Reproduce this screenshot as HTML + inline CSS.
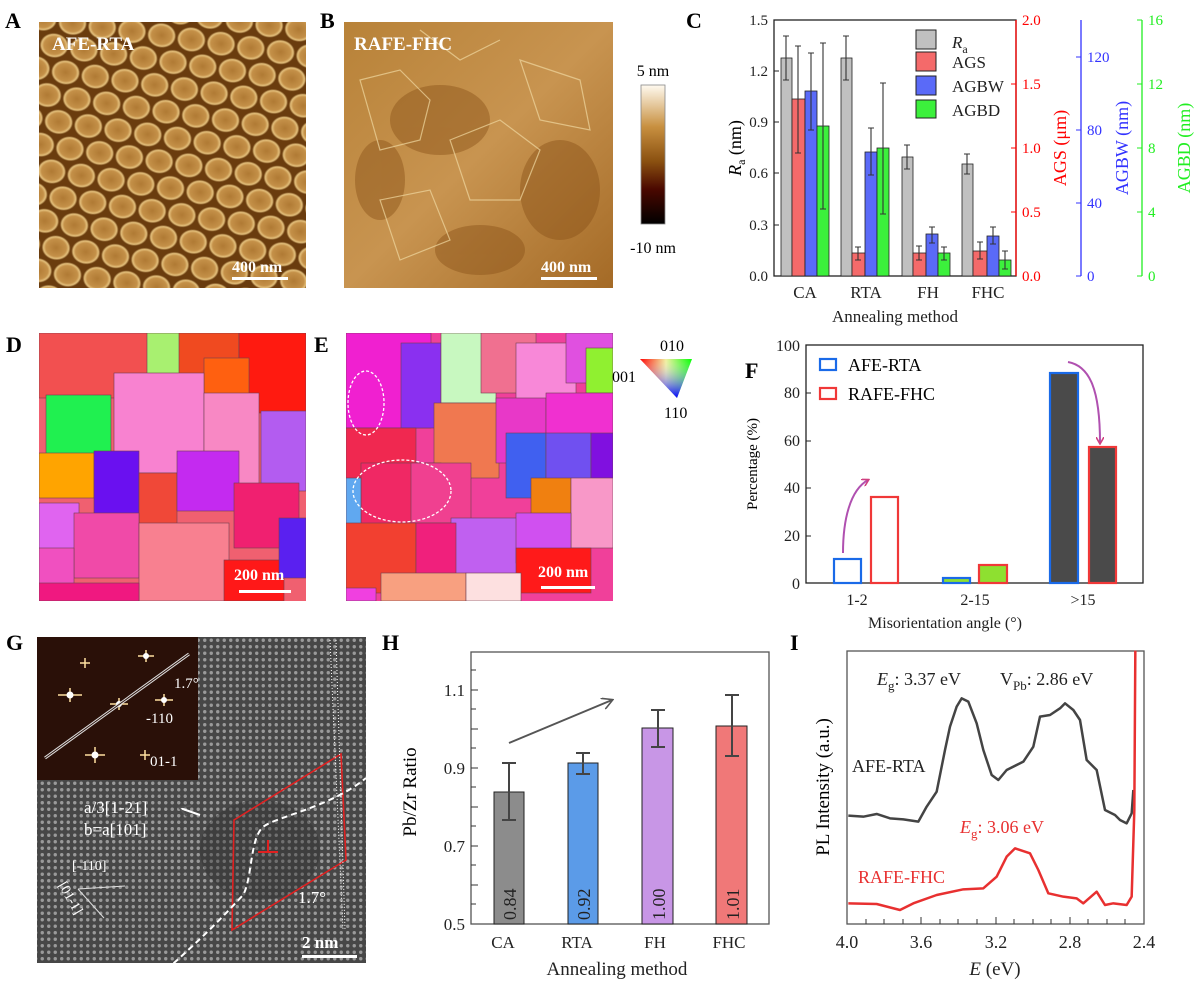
<!DOCTYPE html>
<html><head><meta charset="utf-8"><style>
html,body{margin:0;padding:0;background:#fff;}
svg{display:block;font-family:"Liberation Serif",serif;}
</style></head><body>
<svg width="1196" height="988" viewBox="0 0 1196 988" xmlns="http://www.w3.org/2000/svg">
<defs>
<radialGradient id="grain" cx="50%" cy="50%" r="50%">
<stop offset="0" stop-color="#b07a34"/><stop offset="0.7" stop-color="#c49048"/><stop offset="0.87" stop-color="#e4c07c"/><stop offset="1" stop-color="#6a3c0e"/></radialGradient>
<pattern id="afm" width="30" height="50" patternUnits="userSpaceOnUse" patternTransform="rotate(8)">
<rect width="30" height="50" fill="#6a3c0e"/>
<ellipse cx="15" cy="12.5" rx="14.5" ry="12.5" fill="url(#grain)"/>
<ellipse cx="0" cy="37.5" rx="14.5" ry="12.5" fill="url(#grain)"/>
<ellipse cx="30" cy="37.5" rx="14.5" ry="12.5" fill="url(#grain)"/>
</pattern>
<linearGradient id="cbar" x1="0" y1="0" x2="0" y2="1">
<stop offset="0" stop-color="#fffaf0"/><stop offset="0.3" stop-color="#c89040"/><stop offset="0.55" stop-color="#8a5010"/><stop offset="0.75" stop-color="#4a0800"/><stop offset="1" stop-color="#000"/></linearGradient>
<linearGradient id="bgrad" x1="0" y1="0" x2="1" y2="1">
<stop offset="0" stop-color="#b88238"/><stop offset="0.5" stop-color="#c89450"/><stop offset="1" stop-color="#a46a26"/></linearGradient>
<pattern id="atoms" width="6.5" height="6.5" patternUnits="userSpaceOnUse">
<rect width="6.5" height="6.5" fill="#474747"/><circle cx="3.25" cy="3.25" r="1.7" fill="#9a9a9a"/></pattern>
<linearGradient id="tri" x1="0" y1="0" x2="1" y2="0">
<stop offset="0" stop-color="#f00"/><stop offset="0.5" stop-color="#f0f0a0"/><stop offset="1" stop-color="#0f0"/></linearGradient>
<linearGradient id="tri2" x1="0" y1="0" x2="0" y2="1">
<stop offset="0" stop-color="#fff" stop-opacity="0"/><stop offset="1" stop-color="#00f"/></linearGradient>
<marker id="ah" markerWidth="8" markerHeight="8" refX="6" refY="4" orient="auto" markerUnits="userSpaceOnUse"><path d="M0,0 L7,4 L0,8" fill="none" stroke="#d04080" stroke-width="1.6"/></marker>
<marker id="ah2" markerWidth="12" markerHeight="12" refX="10" refY="6" orient="auto" markerUnits="userSpaceOnUse"><path d="M0,0 L11,6 L0,12" fill="none" stroke="#555" stroke-width="1.6"/></marker>
</defs>

<g font-weight="bold" font-size="22">
<text x="5" y="28">A</text><text x="320" y="28">B</text><text x="686" y="28">C</text>
<text x="6" y="352">D</text><text x="314" y="352">E</text><text x="745" y="378">F</text>
<text x="6" y="650">G</text><text x="382" y="650">H</text><text x="790" y="650">I</text>
</g>

<!-- A -->
<rect x="39" y="22" width="267" height="266" fill="url(#afm)"/>
<text x="52" y="50" font-size="19" font-weight="bold" fill="#fff">AFE-RTA</text>
<text x="232" y="272" font-size="16" font-weight="bold" fill="#fff">400 nm</text>
<rect x="232" y="277" width="56" height="3" fill="#fff"/>

<!-- B -->
<rect x="344" y="22" width="269" height="266" fill="url(#bgrad)"/>
<g fill="#8a5218" opacity="0.45">
<ellipse cx="440" cy="120" rx="50" ry="35"/><ellipse cx="560" cy="190" rx="40" ry="50"/><ellipse cx="480" cy="250" rx="45" ry="25"/><ellipse cx="380" cy="180" rx="25" ry="40"/></g>
<g stroke="#f0d8a0" stroke-width="1.2" fill="none" opacity="0.7">
<path d="M360,80 L400,70 L430,100 L420,140 L380,150 Z"/><path d="M450,140 L500,120 L540,150 L520,200 L470,200 Z"/><path d="M380,200 L430,190 L450,240 L400,260Z"/><path d="M520,60 L580,80 L590,130 L540,120Z"/><path d="M420,30 L460,60 L500,40"/></g>
<text x="354" y="50" font-size="19" font-weight="bold" fill="#fff">RAFE-FHC</text>
<text x="541" y="272" font-size="16" font-weight="bold" fill="#fff">400 nm</text>
<rect x="541" y="277" width="56" height="3" fill="#fff"/>

<rect x="641" y="85" width="24" height="139" fill="url(#cbar)" stroke="#888" stroke-width="0.8"/>
<text x="653" y="76" font-size="16" text-anchor="middle">5 nm</text>
<text x="653" y="253" font-size="16" text-anchor="middle">-10 nm</text>

<!-- C -->
<g font-size="15">
<rect x="774" y="20" width="242" height="256" fill="none" stroke="#222" stroke-width="1.3"/>
<line x1="1016" y1="20" x2="1016" y2="276" stroke="#f00" stroke-width="1.3"/>
<line x1="1081" y1="20" x2="1081" y2="276" stroke="#33f" stroke-width="1.3"/>
<line x1="1142" y1="20" x2="1142" y2="276" stroke="#2e2" stroke-width="1.3"/>
<g fill="#222" text-anchor="end"><text x="768" y="25">1.5</text><text x="768" y="76">1.2</text><text x="768" y="127">0.9</text><text x="768" y="178">0.6</text><text x="768" y="230">0.3</text><text x="768" y="281">0.0</text></g>
<g stroke="#222"><line x1="774" y1="71" x2="779" y2="71"/><line x1="774" y1="122" x2="779" y2="122"/><line x1="774" y1="173" x2="779" y2="173"/><line x1="774" y1="225" x2="779" y2="225"/></g>
<g fill="#f00"><text x="1022" y="25">2.0</text><text x="1022" y="89">1.5</text><text x="1022" y="153">1.0</text><text x="1022" y="217">0.5</text><text x="1022" y="281">0.0</text></g>
<g stroke="#f00"><line x1="1016" y1="84" x2="1011" y2="84"/><line x1="1016" y1="148" x2="1011" y2="148"/><line x1="1016" y1="212" x2="1011" y2="212"/></g>
<g fill="#33f"><text x="1087" y="62">120</text><text x="1087" y="135">80</text><text x="1087" y="208">40</text><text x="1087" y="281">0</text></g>
<g stroke="#33f"><line x1="1081" y1="57" x2="1076" y2="57"/><line x1="1081" y1="130" x2="1076" y2="130"/><line x1="1081" y1="203" x2="1076" y2="203"/><line x1="1081" y1="276" x2="1076" y2="276"/></g>
<g fill="#2e2"><text x="1148" y="25">16</text><text x="1148" y="89">12</text><text x="1148" y="153">8</text><text x="1148" y="217">4</text><text x="1148" y="281">0</text></g>
<g stroke="#2e2"><line x1="1142" y1="20" x2="1137" y2="20"/><line x1="1142" y1="84" x2="1137" y2="84"/><line x1="1142" y1="148" x2="1137" y2="148"/><line x1="1142" y1="212" x2="1137" y2="212"/><line x1="1142" y1="276" x2="1137" y2="276"/></g>
<g stroke="#222" stroke-width="0.8">
<rect x="781" y="58" width="11" height="218" fill="#c0c0c0"/><rect x="792" y="99" width="13" height="177" fill="#f46a6a"/><rect x="805" y="91" width="12" height="185" fill="#5a6af8"/><rect x="817" y="126" width="12" height="150" fill="#3cf03c"/>
<rect x="841" y="58" width="11" height="218" fill="#c0c0c0"/><rect x="852" y="253" width="13" height="23" fill="#f46a6a"/><rect x="865" y="152" width="12" height="124" fill="#5a6af8"/><rect x="877" y="148" width="12" height="128" fill="#3cf03c"/>
<rect x="902" y="157" width="11" height="119" fill="#c0c0c0"/><rect x="913" y="253" width="13" height="23" fill="#f46a6a"/><rect x="926" y="234" width="12" height="42" fill="#5a6af8"/><rect x="938" y="253" width="12" height="23" fill="#3cf03c"/>
<rect x="962" y="164" width="11" height="112" fill="#c0c0c0"/><rect x="973" y="251" width="14" height="25" fill="#f46a6a"/><rect x="987" y="236" width="12" height="40" fill="#5a6af8"/><rect x="999" y="260" width="12" height="16" fill="#3cf03c"/>
</g>
<g stroke="#333" stroke-width="1.1">
<path d="M786,36V80M783,36h6M783,80h6 M798,46V153M795,46h6M795,153h6 M811,53V130M808,53h6M808,130h6 M823,43V209M820,43h6M820,209h6"/>
<path d="M846,36V80M843,36h6M843,80h6 M858,247V260M855,247h6M855,260h6 M871,128V175M868,128h6M868,175h6 M883,83V214M880,83h6M880,214h6"/>
<path d="M907,145V169M904,145h6M904,169h6 M919,246V260M916,246h6M916,260h6 M932,227V243M929,227h6M929,243h6 M944,247V260M941,247h6M941,260h6"/>
<path d="M967,154V174M964,154h6M964,174h6 M980,242V259M977,242h6M977,259h6 M993,227V244M990,227h6M990,244h6 M1005,251V269M1002,251h6M1002,269h6"/>
</g>
<g stroke="#222" stroke-width="1"><rect x="916" y="30" width="20" height="19" fill="#c0c0c0"/><rect x="916" y="52" width="20" height="19" fill="#f46a6a"/><rect x="916" y="76" width="20" height="19" fill="#5a6af8"/><rect x="916" y="100" width="20" height="18" fill="#3cf03c"/></g>
<g font-size="17" fill="#222"><text x="952" y="48"><tspan font-style="italic">R</tspan><tspan font-size="12" dy="5">a</tspan></text><text x="952" y="68">AGS</text><text x="952" y="92">AGBW</text><text x="952" y="116">AGBD</text></g>
<g font-size="17" fill="#222" text-anchor="middle"><text x="805" y="298">CA</text><text x="866" y="298">RTA</text><text x="928" y="298">FH</text><text x="988" y="298">FHC</text><text x="895" y="322">Annealing method</text></g>
<text transform="translate(741,148) rotate(-90)" font-size="18" text-anchor="middle"><tspan font-style="italic">R</tspan><tspan font-size="12" dy="4">a</tspan><tspan dy="-4"> (nm)</tspan></text>
<text transform="translate(1066,148) rotate(-90)" font-size="18" fill="#f00" text-anchor="middle">AGS (μm)</text>
<text transform="translate(1128,148) rotate(-90)" font-size="18" fill="#33f" text-anchor="middle">AGBW (nm)</text>
<text transform="translate(1190,148) rotate(-90)" font-size="18" fill="#2e2" text-anchor="middle">AGBD (nm)</text>
</g>

<!-- D -->
<svg x="39" y="333" width="267" height="268" viewBox="0 0 267 268">
<rect width="267" height="268" fill="#f06070"/>
<g stroke="#704050" stroke-width="0.6">
<rect x="0" y="0" width="115" height="65" fill="#f25050"/><rect x="108" y="0" width="35" height="45" fill="#a8f070"/><rect x="140" y="0" width="60" height="60" fill="#f04a20"/><rect x="200" y="0" width="67" height="80" fill="#ff1a10"/><rect x="165" y="25" width="45" height="40" fill="#ff6010"/>
<rect x="7" y="62" width="65" height="60" fill="#20f050"/><rect x="75" y="40" width="90" height="100" fill="#f882d0"/><rect x="165" y="60" width="55" height="110" fill="#f888c4"/><rect x="222" y="78" width="45" height="80" fill="#b35cf0"/>
<rect x="0" y="120" width="55" height="45" fill="#ffa400"/><rect x="55" y="118" width="45" height="80" fill="#6a10f0"/><rect x="100" y="140" width="38" height="80" fill="#f04838"/><rect x="138" y="118" width="62" height="60" fill="#c42af0"/><rect x="195" y="150" width="65" height="65" fill="#f02070"/>
<rect x="0" y="170" width="40" height="50" fill="#e064f0"/><rect x="35" y="180" width="65" height="65" fill="#f04aa8"/><rect x="100" y="190" width="90" height="78" fill="#f88090"/><rect x="185" y="227" width="60" height="41" fill="#ff1818"/><rect x="240" y="185" width="27" height="60" fill="#5a20f0"/><rect x="0" y="215" width="35" height="53" fill="#f050c0"/><rect x="0" y="250" width="100" height="18" fill="#f01880"/>
</g>
<text x="195" y="247" font-size="16" font-weight="bold" fill="#fff">200 nm</text>
<rect x="200" y="257" width="52" height="3" fill="#fff"/>
</svg>

<!-- E -->
<svg x="346" y="333" width="267" height="268" viewBox="0 0 267 268">
<rect width="267" height="268" fill="#f0409a"/>
<g stroke="#704050" stroke-width="0.6">
<rect x="0" y="0" width="85" height="95" fill="#f020d0"/><rect x="55" y="10" width="40" height="85" fill="#8a30f0"/><rect x="95" y="0" width="55" height="70" fill="#c8f8c0"/><rect x="135" y="0" width="55" height="60" fill="#f07090"/><rect x="170" y="10" width="60" height="70" fill="#f888d8"/><rect x="220" y="0" width="47" height="50" fill="#e050e0"/><rect x="240" y="15" width="27" height="45" fill="#90f030"/>
<rect x="0" y="95" width="70" height="75" fill="#f02850"/><rect x="88" y="70" width="65" height="75" fill="#f07850"/><rect x="150" y="65" width="50" height="65" fill="#e838c8"/><rect x="200" y="60" width="67" height="60" fill="#f030d0"/>
<rect x="15" y="130" width="80" height="70" fill="#f02864"/><rect x="65" y="130" width="60" height="60" fill="#f04090"/><rect x="160" y="100" width="40" height="65" fill="#4060f0"/><rect x="200" y="100" width="45" height="55" fill="#7050f0"/><rect x="245" y="100" width="22" height="55" fill="#8010e0"/><rect x="0" y="145" width="15" height="55" fill="#60a8f0"/>
<rect x="185" y="145" width="40" height="40" fill="#f08010"/><rect x="225" y="145" width="42" height="70" fill="#f898c8"/><rect x="105" y="185" width="70" height="70" fill="#c060f0"/><rect x="170" y="180" width="55" height="50" fill="#d050f0"/>
<rect x="0" y="190" width="70" height="70" fill="#f24030"/><rect x="70" y="190" width="40" height="60" fill="#f0207c"/><rect x="170" y="215" width="75" height="45" fill="#ff1a1a"/><rect x="35" y="240" width="85" height="28" fill="#f8a080"/><rect x="120" y="240" width="55" height="28" fill="#fde0e0"/><rect x="0" y="255" width="30" height="13" fill="#f040e0"/>
</g>
<g fill="none" stroke="#fff" stroke-width="1.3" stroke-dasharray="3,2"><ellipse cx="20" cy="70" rx="18" ry="32"/><ellipse cx="56" cy="158" rx="49" ry="31"/></g>
<text x="192" y="244" font-size="16" font-weight="bold" fill="#fff">200 nm</text>
<rect x="195" y="253" width="54" height="3" fill="#fff"/>
</svg>
<polygon points="640,359 692,359 677,398" fill="url(#tri)"/>
<polygon points="640,359 692,359 677,398" fill="url(#tri2)"/>
<text x="612" y="382" font-size="16">001</text><text x="660" y="351" font-size="16">010</text><text x="664" y="418" font-size="16">110</text>

<!-- F -->
<g font-size="16">
<rect x="806" y="345" width="337" height="238" fill="none" stroke="#222" stroke-width="1.3"/>
<g fill="#222" text-anchor="end"><text x="800" y="351">100</text><text x="800" y="398">80</text><text x="800" y="446">60</text><text x="800" y="493">40</text><text x="800" y="541">20</text><text x="800" y="589">0</text></g>
<g stroke="#222"><line x1="806" y1="393" x2="811" y2="393"/><line x1="806" y1="441" x2="811" y2="441"/><line x1="806" y1="488" x2="811" y2="488"/><line x1="806" y1="536" x2="811" y2="536"/></g>
<g stroke-width="2.2">
<rect x="834" y="559" width="27" height="24" fill="#fff" stroke="#1a6ae8"/><rect x="871" y="497" width="27" height="86" fill="#fff" stroke="#f03838"/>
<rect x="943" y="578" width="27" height="5" fill="#8ee030" stroke="#1a6ae8"/><rect x="979" y="565" width="28" height="18" fill="#8ee030" stroke="#f03838"/>
<rect x="1050" y="373" width="28" height="210" fill="#4a4a4a" stroke="#1a6ae8"/><rect x="1089" y="447" width="27" height="136" fill="#4a4a4a" stroke="#f03838"/>
<rect x="820" y="359" width="16" height="11" fill="#fff" stroke="#1a6ae8"/><rect x="820" y="388" width="16" height="11" fill="#fff" stroke="#f03838"/>
</g>
<text x="848" y="371" font-size="18">AFE-RTA</text><text x="848" y="400" font-size="18">RAFE-FHC</text>
<path d="M843,553 C843,520 850,490 868,480" fill="none" stroke="#b050b0" stroke-width="2" marker-end="url(#ah)"/>
<path d="M1068,362 C1090,366 1100,390 1100,443" fill="none" stroke="#b050b0" stroke-width="2" marker-end="url(#ah)"/>
<g text-anchor="middle" fill="#222"><text x="857" y="605">1-2</text><text x="975" y="605">2-15</text><text x="1083" y="605">&gt;15</text><text x="945" y="628">Misorientation angle (°)</text></g>
<text transform="translate(757,464) rotate(-90)" font-size="15" text-anchor="middle">Percentage (%)</text>
</g>

<!-- G -->
<rect x="37" y="637" width="329" height="326" fill="url(#atoms)"/>
<ellipse cx="260" cy="850" rx="60" ry="50" fill="#333" opacity="0.4"/>
<rect x="37" y="637" width="161" height="143" fill="#2a1008"/>
<g stroke="#ffe0a0" stroke-width="1.5"><path d="M138,656h16M146,650v12 M58,695h24M70,688v14 M110,704h18M119,698v12 M155,700h18M164,694v12 M85,755h20M95,747v16 M140,755h10M145,750v10 M80,663h10M85,658v10"/></g>
<g fill="#fff"><circle cx="146" cy="656" r="3"/><circle cx="70" cy="695" r="3.5"/><circle cx="119" cy="704" r="3"/><circle cx="164" cy="700" r="3"/><circle cx="95" cy="755" r="3.5"/></g>
<line x1="45" y1="758" x2="189" y2="654" stroke="#ddd" stroke-width="3"/>
<line x1="45" y1="758" x2="189" y2="654" stroke="#2a1008" stroke-width="1"/>
<g font-size="15" fill="#fff"><text x="174" y="688">1.7°</text><text x="146" y="723">-110</text><text x="150" y="766">01-1</text></g>
<polygon points="234,820 341,754 346,860 232,930" fill="none" stroke="#e02020" stroke-width="1.6"/>
<path d="M166,970 C200,940 220,920 243,895 C252,880 250,840 262,828 C270,818 330,808 366,778" fill="none" stroke="#fff" stroke-width="2" stroke-dasharray="6,4"/>
<path d="M258,852 h20 M268,852 v-12" stroke="#e02020" stroke-width="2"/>
<line x1="330" y1="640" x2="343" y2="930" stroke="#fff" stroke-width="1" stroke-dasharray="1,2"/>
<line x1="336" y1="640" x2="345" y2="930" stroke="#fff" stroke-width="1" stroke-dasharray="1,2"/>
<g font-size="17" fill="#fff"><text x="84" y="813">a/3[1-21]</text><text x="84" y="835">b=a[101]</text><text x="298" y="903">1.7°</text><text x="302" y="948" font-weight="bold">2 nm</text><text x="72" y="870" font-size="14">[-110]</text></g>
<text transform="translate(58,885) rotate(60)" font-size="14" fill="#fff">[01-1]</text>
<path d="M200,815 L180,808" stroke="#fff" stroke-width="2" marker-end="url(#ah2)"/>
<path d="M78,889 L125,886 M78,889 L104,918" stroke="#ddd" stroke-width="1"/>
<rect x="302" y="955" width="55" height="3" fill="#fff"/>

<!-- H -->
<g font-size="17">
<rect x="471" y="652" width="298" height="272" fill="none" stroke="#555" stroke-width="1.3"/>
<g stroke="#333"><path d="M471,670h5M471,690h7M471,709h5M471,729h7M471,748h5M471,768h7M471,787h5M471,807h7M471,826h5M471,846h7M471,865h5M471,885h7M471,904h5"/></g>
<g text-anchor="end" fill="#222"><text x="465" y="696">1.1</text><text x="465" y="774">0.9</text><text x="465" y="852">0.7</text><text x="465" y="930">0.5</text></g>
<g stroke="#222" stroke-width="1"><rect x="494" y="792" width="30" height="132" fill="#8c8c8c"/><rect x="568" y="763" width="30" height="161" fill="#5b9be8"/><rect x="642" y="728" width="31" height="196" fill="#c896e6"/><rect x="716" y="726" width="31" height="198" fill="#f07878"/></g>
<g stroke="#444" stroke-width="2"><path d="M509,763V820M502,763h14M502,820h14 M583,753V774M576,753h14M576,774h14 M658,710V747M651,710h14M651,747h14 M732,695V756M725,695h14M725,756h14"/></g>
<line x1="509" y1="743" x2="612" y2="700" stroke="#555" stroke-width="2" marker-end="url(#ah2)"/>
<g font-size="18" fill="#222"><text transform="translate(516,920) rotate(-90)">0.84</text><text transform="translate(590,920) rotate(-90)">0.92</text><text transform="translate(665,920) rotate(-90)">1.00</text><text transform="translate(739,920) rotate(-90)">1.01</text></g>
<g text-anchor="middle" fill="#222"><text x="503" y="948">CA</text><text x="577" y="948">RTA</text><text x="655" y="948">FH</text><text x="729" y="948">FHC</text><text x="617" y="975" font-size="19">Annealing method</text></g>
<text transform="translate(416,792) rotate(-90)" font-size="19" text-anchor="middle">Pb/Zr Ratio</text>
</g>

<!-- I -->
<g font-size="18">
<rect x="847" y="651" width="297" height="273" fill="none" stroke="#555" stroke-width="1.3"/>
<g stroke="#333"><path d="M866,924v-5M884,924v-5M903,924v-5M921,924v-7M940,924v-5M958,924v-5M977,924v-5M996,924v-7M1014,924v-5M1033,924v-5M1051,924v-5M1070,924v-7M1088,924v-5M1107,924v-5M1125,924v-5"/></g>
<g text-anchor="middle" fill="#222"><text x="847" y="948">4.0</text><text x="921" y="948">3.6</text><text x="996" y="948">3.2</text><text x="1070" y="948">2.8</text><text x="1144" y="948">2.4</text><text x="995" y="975" font-size="19"><tspan font-style="italic">E</tspan> (eV)</text></g>
<text transform="translate(829,787) rotate(-90)" font-size="19" text-anchor="middle">PL Intensity (a.u.)</text>
<g transform="translate(790,610) scale(0.33333)" fill="none" stroke-linejoin="round">
<polyline vector-effect="non-scaling-stroke" stroke="#444" stroke-width="2.5" points="175,617 220,620 260,612 300,625 340,628 385,635 410,590 440,545 465,420 480,350 500,290 515,265 535,275 560,340 580,420 605,495 625,510 650,480 700,455 730,410 750,320 780,315 810,295 825,280 850,300 870,330 890,450 920,480 945,600 975,615 990,630 1010,640 1025,610 1030,540"/>
<polyline vector-effect="non-scaling-stroke" stroke="#e83030" stroke-width="2.5" points="175,880 260,882 330,900 370,880 440,855 520,838 580,835 620,800 650,740 675,715 720,730 745,780 775,850 820,860 860,865 880,880 920,845 945,885 970,880 1010,885 1025,860 1033,600 1036,122"/>
</g>
<text x="877" y="685" fill="#222"><tspan font-style="italic">E</tspan><tspan font-size="13" dy="5">g</tspan><tspan dy="-5">: 3.37 eV</tspan></text>
<text x="1000" y="685" fill="#222">V<tspan font-size="13" dy="5">Pb</tspan><tspan dy="-5">: 2.86 eV</tspan></text>
<text x="852" y="772" fill="#222">AFE-RTA</text>
<text x="960" y="833" fill="#e83030"><tspan font-style="italic">E</tspan><tspan font-size="13" dy="5">g</tspan><tspan dy="-5">: 3.06 eV</tspan></text>
<text x="858" y="883" fill="#e83030">RAFE-FHC</text>
</g>
</svg>
</body></html>
